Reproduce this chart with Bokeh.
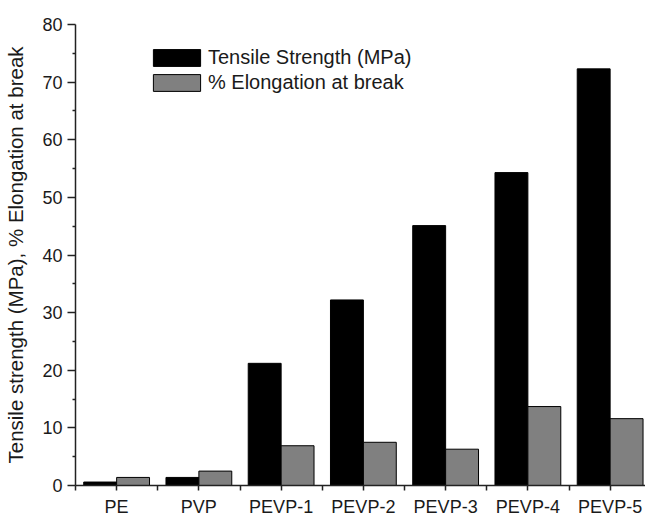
from bokeh.plotting import figure
from bokeh.models import FixedTicker, Legend, LegendItem, Range1d
from bokeh.embed import file_html
from bokeh.resources import INLINE

# ---- data ----
samples = ["PE", "PVP", "PEVP-1", "PEVP-2", "PEVP-3", "PEVP-4", "PEVP-5"]
tensile = [0.6, 1.4, 21.2, 32.2, 45.1, 54.3, 72.3]
elongation = [1.4, 2.5, 6.9, 7.5, 6.3, 13.7, 11.6]
y_ticks = [0, 10, 20, 30, 40, 50, 60, 70, 80]

FONT = "Liberation Sans"
TXT = "#1a1a1a"

idx = list(range(len(samples)))
bar_w = 0.4
x_t = [i - bar_w / 2 for i in idx]
x_e = [i + bar_w / 2 for i in idx]

p = figure(width=645, height=519, output_backend="svg", toolbar_location=None,
           x_range=Range1d(-0.5, 6.43), y_range=Range1d(0, 80),
           min_border_left=75, min_border_right=0, min_border_top=24,
           min_border_bottom=30)
p.outline_line_color = None
p.xgrid.visible = False
p.ygrid.visible = False
p.background_fill_color = "white"

r1 = p.vbar(x=x_t, top=tensile, bottom=0, width=bar_w,
            fill_color="black", line_color="black", line_width=1)
r2 = p.vbar(x=x_e, top=elongation, bottom=0, width=bar_w,
            fill_color="#808080", line_color="black", line_width=1)

# x axis
xa = p.xaxis[0]
xa.ticker = FixedTicker(ticks=idx, minor_ticks=[i + 0.5 for i in range(-1, len(samples) - 1)])
xa.major_label_overrides = {i: s for i, s in enumerate(samples)}
xa.major_tick_out = 5
xa.major_tick_in = 0
xa.minor_tick_out = 5
xa.minor_tick_in = 0
xa.axis_line_width = 1.5
xa.axis_line_color = "#222222"
xa.major_tick_line_color = "#222222"
xa.minor_tick_line_color = "#222222"
xa.major_tick_line_width = 1.5
xa.minor_tick_line_width = 1.5
xa.major_label_text_font = FONT
xa.major_label_text_font_size = "18px"
xa.major_label_text_color = TXT
xa.major_label_standoff = 6

# y axis
ya = p.yaxis[0]
ya.ticker = FixedTicker(ticks=y_ticks,
                        minor_ticks=[(a + b) / 2 for a, b in zip(y_ticks[:-1], y_ticks[1:])])
ya.major_tick_out = 8
ya.major_tick_in = 0
ya.minor_tick_out = 3
ya.minor_tick_in = 0
ya.axis_line_width = 1.5
ya.axis_line_color = "#222222"
ya.major_tick_line_color = "#222222"
ya.minor_tick_line_color = "#222222"
ya.major_tick_line_width = 1.5
ya.minor_tick_line_width = 1.5
ya.major_label_text_font = FONT
ya.major_label_text_font_size = "18px"
ya.major_label_text_color = TXT
ya.major_label_standoff = 5
ya.axis_label = "Tensile strength (MPa), % Elongation at break"
ya.axis_label_text_font = FONT
ya.axis_label_text_font_size = "20.5px"
ya.axis_label_text_font_style = "normal"
ya.axis_label_text_color = TXT
ya.axis_label_standoff = 12

legend = Legend(items=[LegendItem(label="Tensile Strength (MPa)", renderers=[r1]),
                       LegendItem(label="% Elongation at break", renderers=[r2])],
                location=(72, 391), glyph_width=59, glyph_height=21,
                label_height=21, spacing=2, padding=0, margin=0,
                border_line_color=None, background_fill_alpha=0,
                label_text_font=FONT, label_text_font_size="20px",
                label_text_color=TXT, label_standoff=2)
p.add_layout(legend)

open("out.html", "w").write(file_html(p, INLINE))
